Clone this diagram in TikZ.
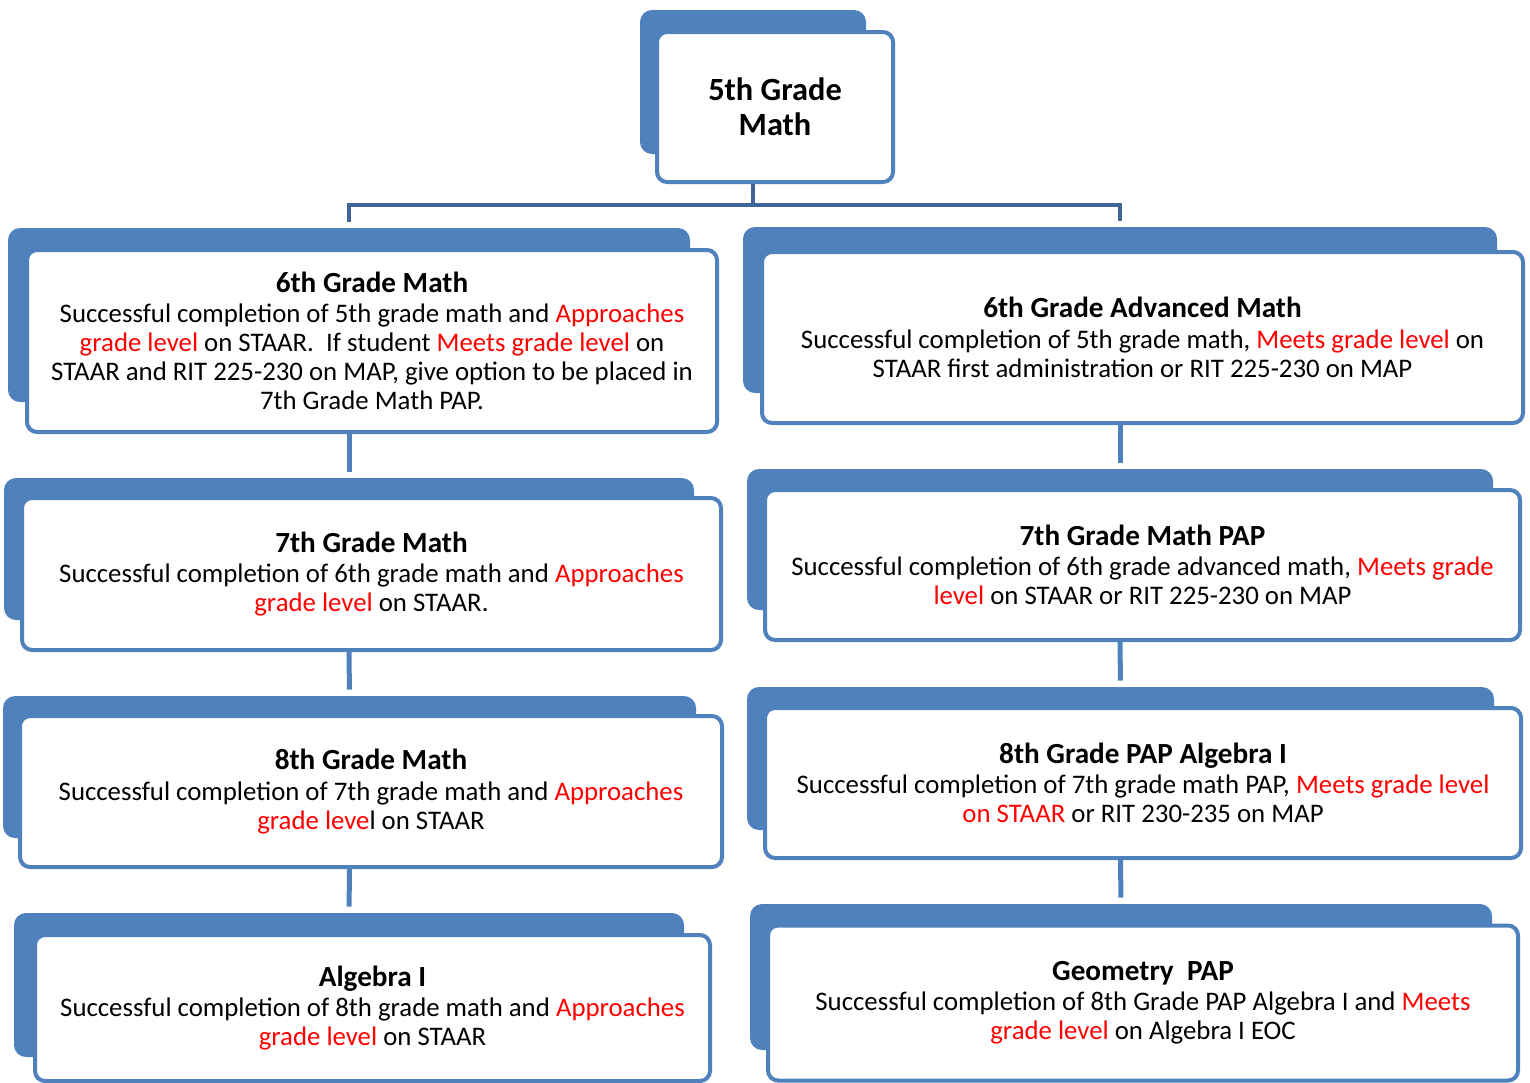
\documentclass[tikz,border=0pt]{standalone}
\usepackage{fontspec}
\setmainfont{Carlito}
\usepackage{tikz}
\usetikzlibrary{arrows.meta,positioning,calc}
\usepackage{xcolor}
\definecolor{cardblue}{RGB}{79,129,189}
\definecolor{forkblue}{RGB}{62,101,150}
\definecolor{reqred}{RGB}{255,0,0}
\newcommand{\redtxt}[1]{\textcolor{reqred}{#1}}
\newcommand{\cardtitle}[1]{{\fontsize{14.6}{14.6}\selectfont\bfseries #1}\\[0.7pt]}
\tikzset{
    card/.style={
        draw=cardblue,line width=2pt,rounded corners=5pt,fill=white,
        align=center,inner sep=0pt,
        font=\fontsize{13.4}{14.5}\selectfont
    },
    cardback/.style={
        fill=cardblue,draw=none,rounded corners=6pt,inner sep=0pt
    },
    link/.style={
        draw=cardblue,line width=2.5pt,shorten >=3pt
    },
    fork/.style={
        draw=forkblue,line width=2pt,shorten >=3pt
    }
}

\begin{document}
\begin{tikzpicture}[x=0.5pt,y=-0.5pt]

\useasboundingbox (0,0) rectangle (1530,1082);
\clip (0,0) rectangle (1530,1082);

% shadow blocks behind the cards
\node[cardback,minimum width=113pt,minimum height=72pt](g5bk) at (753,82){};
\node[cardback,minimum width=341pt,minimum height=87pt](g6bk) at (349,315){};
\node[cardback,minimum width=345pt,minimum height=71pt](g7bk) at (349,549){};
\node[cardback,minimum width=346.5pt,minimum height=71pt](g8bk) at (349.5,767){};
\node[cardback,minimum width=335pt,minimum height=72pt](algbk) at (349,985){};
\node[cardback,minimum width=377pt,minimum height=83pt](g6advbk) at (1120,310){};
\node[cardback,minimum width=373pt,minimum height=70.5pt](g7papbk) at (1120,539.5){};
\node[cardback,minimum width=373.5pt,minimum height=71.5pt](g8papbk) at (1120.5,758.5){};
\node[cardback,minimum width=371pt,minimum height=73pt](geobk) at (1121,977){};

% cards
\node[card,minimum width=118pt,minimum height=75pt,
font=\fontsize{16.2}{17.5}\selectfont\bfseries]
(g5) at (775,107){5th Grade\\Math};

\node[card,minimum width=345pt,minimum height=91pt]
(g6) at (372,341)
{\cardtitle{6th Grade Math}
Successful completion of 5th grade math and \redtxt{Approaches}\\
\redtxt{grade level} on STAAR.\ \ If student \redtxt{Meets grade level} on\\
STAAR and RIT 225-230 on MAP, give option to be placed in\\
7th Grade Math PAP.};

\node[card,minimum width=349.5pt,minimum height=76pt]
(g7) at (371.5,574)
{\cardtitle{7th Grade Math}
Successful completion of 6th grade math and \redtxt{Approaches}\\
\redtxt{grade level} on STAAR.};

\node[card,minimum width=351pt,minimum height=75.5pt]
(g8) at (371,791.5)
{\cardtitle{8th Grade Math}
Successful completion of 7th grade math and \redtxt{Approaches}\\
\redtxt{grade leve}l on STAAR};

\node[card,minimum width=337.5pt,minimum height=73pt]
(alg) at (372.5,1008)
{\cardtitle{Algebra I}
Successful completion of 8th grade math and \redtxt{Approaches}\\
\redtxt{grade level} on STAAR};

\node[card,minimum width=380.5pt,minimum height=85.5pt]
(g6adv) at (1142.5,337.5)
{\cardtitle{6th Grade Advanced Math}
Successful completion of 5th grade math, \redtxt{Meets grade level} on\\
STAAR first administration or RIT 225-230 on MAP};

\node[card,minimum width=377.5pt,minimum height=75pt]
(g7pap) at (1142.5,565)
{\cardtitle{7th Grade Math PAP}
Successful completion of 6th grade advanced math, \redtxt{Meets grade}\\
\redtxt{level} on STAAR or RIT 225-230 on MAP};

\node[card,minimum width=378pt,minimum height=75pt]
(g8pap) at (1143,783)
{\cardtitle{8th Grade PAP Algebra I}
Successful completion of 7th grade math PAP, \redtxt{Meets grade level}\\
\redtxt{on STAAR} or RIT 230-235 on MAP};

\node[card,minimum width=375pt,minimum height=77.5pt]
(geo) at (1143,1003)
{\cardtitle{Geometry\ \ PAP}
Successful completion of 8th Grade PAP Algebra I and \redtxt{Meets}\\
\redtxt{grade level} on Algebra I EOC};

% connectors
\coordinate (split) at (753,205);
\draw[fork,shorten >=0pt](g5bk |- g5.south)--(g5bk |- split);
\draw[fork,shorten <=3pt](g6bk.north)--(g6bk |- split)--(g6advbk |- split)--(g6advbk.north);

\draw[link](g6bk |- g6.south)--(g7bk.north);
\draw[link](g7bk |- g7.south)--(g8bk.north);
\draw[link](g8bk |- g8.south)--(algbk.north);
\draw[link](g6advbk |- g6adv.south)--(g7papbk.north);
\draw[link](g7papbk |- g7pap.south)--(g8papbk.north);
\draw[link](g8papbk |- g8pap.south)--(geobk.north);

\end{tikzpicture}
\end{document}
